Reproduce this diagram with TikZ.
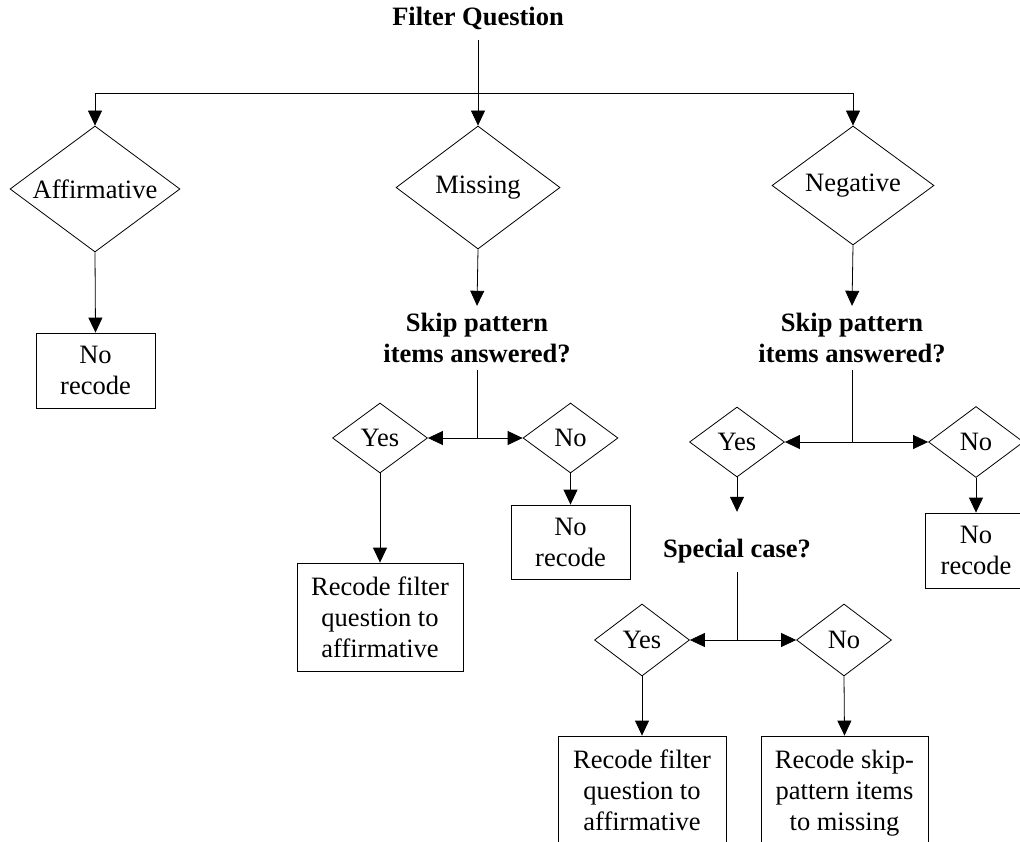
\documentclass[tikz,border=0pt]{standalone}
\usepackage{fontspec}
\setmainfont{Liberation Serif}
\usetikzlibrary{shapes.geometric,arrows.meta}
\begin{document}
\begin{tikzpicture}[x=1pt,y=-1pt,
  every node/.style={font=\fontsize{26.5}{31}\selectfont},
  lines/.style={line width=0.8pt,draw=black},
  arr/.style={lines,-{Triangle[length=15pt,width=14pt]}},
  dia/.style={shape=diamond,lines,inner sep=0pt,shape aspect=1.35},
  box/.style={shape=rectangle,lines,align=center,inner sep=0pt},
  qtext/.style={align=center,inner sep=0pt,font=\fontsize{26.5}{31}\selectfont\bfseries}
]
\useasboundingbox (0,0) rectangle (1020,842);
\clip (0,0) rectangle (1020,842);

% top level
\node[qtext,anchor=base,text depth=14pt] (title) at (478,26) {Filter Question};
\node[dia,minimum width=170pt,minimum height=126pt] (affirm) at (95,189) {Affirmative};
\node[dia,minimum width=164pt,minimum height=123pt] (missing) at (478,187.5) {Missing};
\node[dia,minimum width=162pt,minimum height=119pt] (negative) at (853,185.5) {Negative};
\coordinate (split) at (478,93);

\draw[arr] (title.south) -- (missing.north);
\draw[arr] (split) -| (affirm.north);
\draw[arr] (split) -| (negative.north);

% affirmative branch
\node[box,minimum width=119pt,minimum height=75pt] (nr1) at (95.5,370.5) {No\\recode};
\draw[arr] (affirm.south) -- (nr1.north);

% missing branch
\node[qtext,minimum height=64pt] (skip1) at (477,338) {Skip pattern\\items answered?};
\draw[arr] (missing.south) -- (skip1.north);
\node[dia,minimum width=95pt,minimum height=70pt] (yes1) at (380,438) {Yes};
\node[dia,minimum width=95pt,minimum height=70pt] (no1) at (570.5,438) {No};
\draw[arr] (skip1.south) |- (yes1.east);
\draw[arr] (skip1.south) |- (no1.west);
\node[box,minimum width=166pt,minimum height=108pt] (rf1) at (380,617) {Recode filter\\question to\\affirmative};
\node[box,minimum width=119pt,minimum height=74pt] (nr2) at (570.5,542) {No\\recode};
\draw[arr] (yes1.south) -- (rf1.north);
\draw[arr] (no1.south) -- (nr2.north);

% negative branch
\node[qtext,minimum height=64pt] (skip2) at (852,338) {Skip pattern\\items answered?};
\draw[arr] (negative.south) -- (skip2.north);
\node[dia,minimum width=95pt,minimum height=70pt] (yes2) at (737,442) {Yes};
\node[dia,minimum width=95pt,minimum height=71pt] (no2) at (976,442) {No};
\draw[arr] (skip2.south) |- (yes2.east);
\draw[arr] (skip2.south) |- (no2.west);
\node[box,minimum width=102pt,minimum height=75pt] (nr3) at (976,550.5) {No\\recode};
\draw[arr] (no2.south) -- (nr3.north);

\node[qtext,anchor=base,text height=45pt,text depth=15pt] (special) at (737,557) {Special case?};
\draw[arr] (yes2.south) -- (special.north);
\node[dia,minimum width=95pt,minimum height=72pt] (yes3) at (642,640) {Yes};
\node[dia,minimum width=95pt,minimum height=72pt] (no3) at (844,640) {No};
\draw[arr] (special.south) |- (yes3.east);
\draw[arr] (special.south) |- (no3.west);
\node[box,minimum width=168pt,minimum height=108pt] (rf2) at (642,790) {Recode filter\\question to\\affirmative};
\node[box,minimum width=167pt,minimum height=114pt] (rs) at (844.5,793) {Recode skip-\\pattern items\\to missing};
\draw[arr] (yes3.south) -- (rf2.north);
\draw[arr] (no3.south) -- (rs.north);
\end{tikzpicture}
\end{document}
